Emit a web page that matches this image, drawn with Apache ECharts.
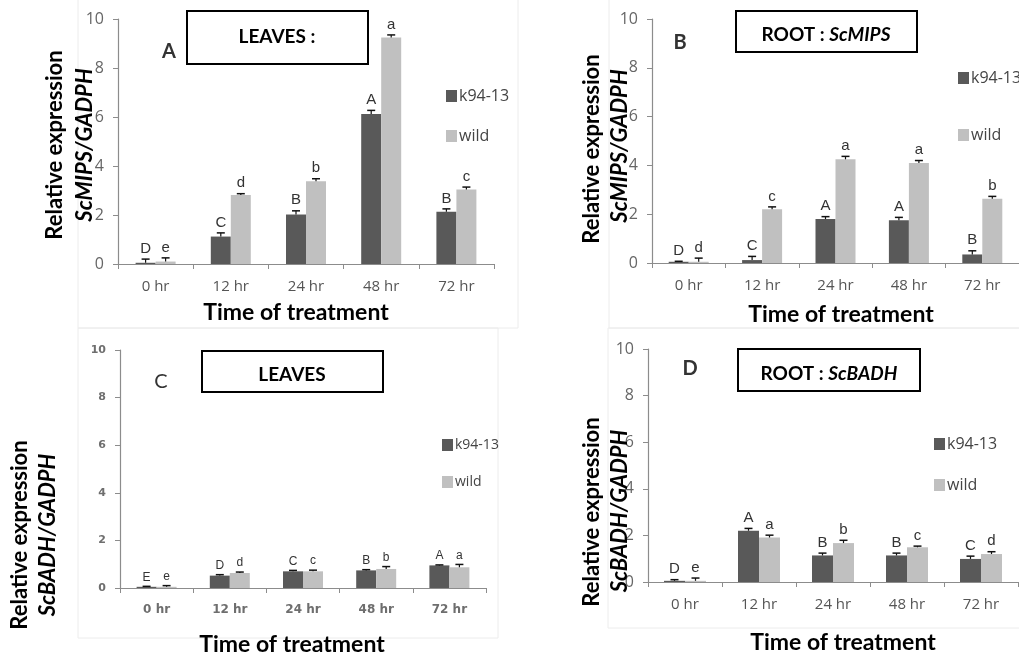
<!DOCTYPE html>
<html>
<head>
<meta charset="utf-8">
<script src="https://cdn.jsdelivr.net/npm/echarts@6/dist/echarts.min.js"></script>
<style>html,body{margin:0;padding:0;background:#fff}#c{width:1019px;height:655px}</style>
</head>
<body>
<div id="c"></div>
<script>
// ---------- data ----------
const categories = ['0 hr', '12 hr', '24 hr', '48 hr', '72 hr'];
const yTicks = [0, 2, 4, 6, 8, 10];
const seriesNames = ['k94-13', 'wild'];

// Panel A: leaves ScMIPS
const A_k94 = [0.05, 1.12, 2.02, 6.12, 2.13];
const A_wild = [0.1, 2.82, 3.38, 9.25, 3.04];
const A_k94_err = [0.15, 0.15, 0.15, 0.15, 0.12];
const A_wild_err = [0.15, 0.05, 0.1, 0.1, 0.1];
const A_k94_let = ['D', 'C', 'B', 'A', 'B'];
const A_wild_let = ['e', 'd', 'b', 'a', 'c'];

// Panel B: root ScMIPS
const B_k94 = [0.05, 0.12, 1.8, 1.75, 0.35];
const B_wild = [0.05, 2.2, 4.25, 4.1, 2.63];
const B_k94_err = [0.02, 0.15, 0.1, 0.12, 0.15];
const B_wild_err = [0.15, 0.1, 0.12, 0.1, 0.1];
const B_k94_let = ['D', 'C', 'A', 'A', 'B'];
const B_wild_let = ['d', 'c', 'a', 'a', 'b'];

// Panel C: leaves ScBADH
const C_k94 = [0.05, 0.52, 0.7, 0.74, 0.95];
const C_wild = [0.05, 0.63, 0.7, 0.8, 0.87];
const C_k94_err = [0.02, 0.04, 0.04, 0.03, 0.02];
const C_wild_err = [0.05, 0.04, 0.05, 0.1, 0.12];
const C_k94_let = ['E', 'D', 'C', 'B', 'A'];
const C_wild_let = ['e', 'd', 'c', 'b', 'a'];

// Panel D: root ScBADH
const D_k94 = [0.05, 2.2, 1.14, 1.14, 0.99];
const D_wild = [0.05, 1.91, 1.67, 1.49, 1.2];
const D_k94_err = [0.05, 0.1, 0.1, 0.1, 0.12];
const D_wild_err = [0.12, 0.1, 0.12, 0.05, 0.1];
const D_k94_let = ['D', 'A', 'B', 'B', 'C'];
const D_wild_let = ['e', 'a', 'b', 'c', 'd'];

// ---------- styling ----------
const DARK = '#595959', LIGHT = '#c0c0c0';
const FONT = 'Lato, "Open Sans", sans-serif';

const panels = [
  {k: A_k94, w: A_wild, ke: A_k94_err, we: A_wild_err, kl: A_k94_let, wl: A_wild_let,
   grid: {left: 118, top: 19, width: 376, height: 245}, bw: 20, small: false},
  {k: B_k94, w: B_wild, ke: B_k94_err, we: B_wild_err, kl: B_k94_let, wl: B_wild_let,
   grid: {left: 652, top: 19, width: 376, height: 244}, bw: 20, small: false},
  {k: C_k94, w: C_wild, ke: C_k94_err, we: C_wild_err, kl: C_k94_let, wl: C_wild_let,
   grid: {left: 120, top: 350, width: 366, height: 238}, bw: 20, small: true},
  {k: D_k94, w: D_wild, ke: D_k94_err, we: D_wild_err, kl: D_k94_let, wl: D_wild_let,
   grid: {left: 648, top: 349, width: 370, height: 233}, bw: 21, small: false}
];

const grids = [], xAxes = [], yAxes = [], series = [];
panels.forEach((p, i) => {
  grids.push(p.grid);
  xAxes.push({
    type: 'category', gridIndex: i, data: categories,
    axisLine: {lineStyle: {color: '#8c8c8c', width: 1.2}},
    axisTick: {show: true, length: 5, lineStyle: {color: '#8c8c8c'}},
    axisLabel: p.small
      ? {margin: 16, color: '#6e6e6e', fontSize: 12, fontWeight: 'bold', fontFamily: '"DejaVu Sans", sans-serif'}
      : {margin: 15, color: '#555', fontSize: 15, fontFamily: '"Open Sans", sans-serif'}
  });
  yAxes.push({
    type: 'value', gridIndex: i, min: 0, max: 10, interval: 2,
    splitLine: {show: false},
    axisLine: {show: true, lineStyle: {color: '#8c8c8c', width: 1.2}},
    axisTick: {show: true, length: 5, lineStyle: {color: '#8c8c8c'}},
    axisLabel: p.small
      ? {margin: 14, color: '#6e6e6e', fontSize: 11, fontWeight: 'bold', fontFamily: '"DejaVu Sans", sans-serif',
         formatter: v => yTicks.includes(v) ? String(v) : ''}
      : {margin: 14, color: '#666', fontSize: 16, fontFamily: '"Open Sans", sans-serif',
         formatter: v => yTicks.includes(v) ? String(v) : ''}
  });
  const mk = (name, vals, color) => ({
    type: 'bar', name, xAxisIndex: i, yAxisIndex: i, data: vals,
    barWidth: p.bw, barGap: '0%', itemStyle: {color}, z: 2
  });
  series.push(mk(seriesNames[0], p.k, DARK));
  series.push(mk(seriesNames[1], p.w, LIGHT));
  const mkErr = (vals, errs, lets, side) => ({
    type: 'custom', xAxisIndex: i, yAxisIndex: i, z: 5, silent: true,
    data: vals.map((v, j) => [j, v, errs[j]]),
    renderItem: (params, api) => {
      const j = params.dataIndex;
      const base = api.coord([api.value(0), api.value(1)]);
      const top = api.coord([api.value(0), api.value(1) + api.value(2)]);
      const x = base[0] + side * p.bw / 2;
      const cap = 4;
      return {
        type: 'group',
        children: [
          {type: 'line', shape: {x1: x, y1: base[1], x2: x, y2: top[1]}, style: {stroke: '#111', lineWidth: 1.2}},
          {type: 'line', shape: {x1: x - cap, y1: top[1], x2: x + cap, y2: top[1]}, style: {stroke: '#111', lineWidth: 1.5}},
          {type: 'text', x: x, y: top[1] - 3,
           style: {text: lets[j], fill: '#333', font: (p.small ? '12px' : '15px') + ' "Liberation Sans", Arial, sans-serif',
                   textAlign: 'center', textVerticalAlign: 'bottom', align: 'center', verticalAlign: 'bottom'}}
        ]
      };
    }
  });
  series.push(mkErr(p.k, p.ke, p.kl, -1));
  series.push(mkErr(p.w, p.we, p.wl, 1));
});

const legendBase = (left, top, gap, size) => ({
  data: seriesNames, orient: 'vertical', left, top, itemGap: gap,
  itemWidth: 11, itemHeight: 12, icon: 'rect', selectedMode: false,
  textStyle: {color: '#444', fontSize: size, fontFamily: '"Open Sans", sans-serif', padding: [0, 0, 0, -3]}
});

function vText(x, y, text, italic, size) {
  return {type: 'text', x, y, rotation: Math.PI / 2, z: 10,
    style: {text, font: (italic ? 'italic ' : '') + 'bold ' + size + 'px ' + FONT, fill: '#000',
            textAlign: 'center', textVerticalAlign: 'middle', align: 'center', verticalAlign: 'middle'}};
}
function hText(x, y, text, size, weight, color) {
  return {type: 'text', x, y, z: 10,
    style: {text, font: (weight || 'bold') + ' ' + size + 'px ' + FONT, fill: color || '#000',
            textAlign: 'center', textVerticalAlign: 'middle', align: 'center', verticalAlign: 'middle'}};
}
function box(x, y, w, h) {
  return {type: 'rect', z: 8, shape: {x, y, width: w, height: h}, style: {fill: '#fff', stroke: '#000', lineWidth: 2}};
}
function richTitle(x, y, a, b) {
  return {type: 'text', x, y, z: 10,
    style: {text: '{n|' + a + '}{i|' + b + '}', textAlign: 'center', textVerticalAlign: 'middle', align: 'center', verticalAlign: 'middle',
      rich: {n: {font: 'bold 19px ' + FONT, fill: '#000'}, i: {font: 'italic bold 19px ' + FONT, fill: '#000'}}}};
}
function frame(x, y, w, h) {
  return {type: 'rect', z: 0, shape: {x, y, width: w, height: h}, style: {fill: 'none', stroke: '#ececec', lineWidth: 1}};
}

const graphic = [
  frame(78, -2, 440, 330), frame(609, -2, 420, 330), frame(78, 328, 420, 310), frame(608, 328, 420, 300),
  // titles
  box(187, 11, 181, 53), hText(277, 37, 'LEAVES :', 19),
  box(736, 11, 181, 41), richTitle(826, 35, 'ROOT : ', 'ScMIPS'),
  box(202, 351, 181, 41), hText(292, 375, 'LEAVES', 19),
  box(738, 349, 182, 42), richTitle(829, 374, 'ROOT : ', 'ScBADH'),
  // panel letters
  hText(169, 52, 'A', 20, 'bold', '#333'),
  hText(680, 43, 'B', 20, 'bold', '#333'),
  hText(161, 382, 'C', 20, 'normal', '#333'),
  hText(690, 369, 'D', 20, 'bold', '#333'),
  // y-axis titles
  vText(55, 145, 'Relative expression', false, 22), vText(85, 145, 'ScMIPS/GADPH', true, 22),
  vText(592, 149, 'Relative expression', false, 22), vText(620, 146, 'ScMIPS/GADPH', true, 22),
  vText(20, 535, 'Relative expression', false, 22), vText(48, 535, 'ScBADH/GADPH', true, 22),
  vText(592, 512, 'Relative expression', false, 22), vText(620, 511, 'ScBADH/GADPH', true, 22),
  // x-axis titles
  hText(296, 313, 'Time of treatment', 23), hText(841, 315, 'Time of treatment', 23),
  hText(292, 645, 'Time of treatment', 23), hText(843, 643, 'Time of treatment', 23)
];

const chart = echarts.init(document.getElementById('c'), null, {renderer: 'canvas'});
chart.setOption({
  animation: false,
  backgroundColor: '#fff',
  grid: grids, xAxis: xAxes, yAxis: yAxes, series,
  legend: [
    legendBase(441, 83, 24, 16),
    legendBase(953, 65, 41, 16),
    legendBase(437, 433, 23, 14),
    legendBase(929, 431, 25, 16)
  ],
  graphic
});
</script>
</body>
</html>
